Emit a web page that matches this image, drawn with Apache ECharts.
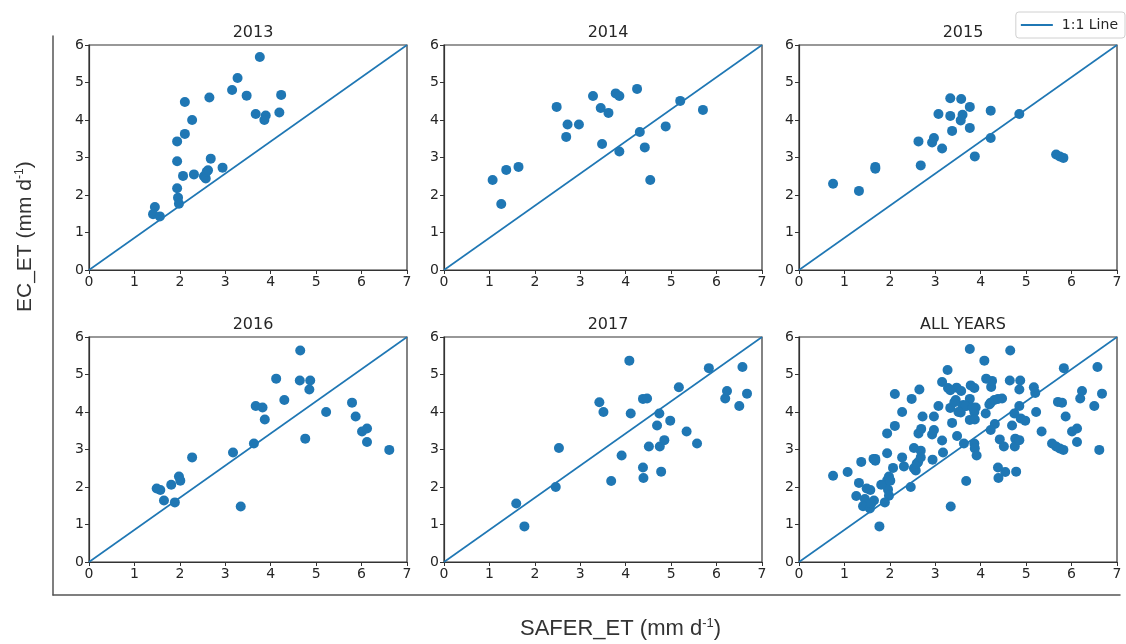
<!DOCTYPE html>
<html>
<head>
<meta charset="utf-8">
<script src="https://cdn.jsdelivr.net/npm/echarts@6/dist/echarts.min.js"></script>
<style>
  html, body { margin: 0; padding: 0; background: #fff; }
  #chart { width: 1126px; height: 644px; }
</style>
</head>
<body>
<div id="chart"></div>
<script>
// ---- data ----
const panelTitles = ['2013', '2014', '2015', '2016', '2017', 'ALL YEARS'];
const xTicks = [0, 1, 2, 3, 4, 5, 6, 7];
const yTicks = [0, 1, 2, 3, 4, 5, 6];

const x2013 = [1.45,1.41,1.56,1.94,1.96,1.98,1.94,1.94,2.11,2.11,2.27,2.07,2.31,2.53,2.57,2.59,2.62,2.68,2.65,2.94,3.15,3.27,3.47,3.76,3.67,3.89,3.86,4.19,4.23];
const y2013 = [1.68,1.49,1.43,2.18,1.93,1.77,2.90,3.43,3.63,4.48,4.00,2.51,2.55,2.50,2.44,2.62,2.66,2.97,4.60,2.73,4.80,5.12,4.65,5.68,4.16,4.12,4.00,4.20,4.67];

const x2014 = [1.07,1.26,1.37,1.64,2.48,2.69,2.72,2.97,3.28,3.45,3.62,3.48,3.78,3.86,3.86,4.25,4.31,4.42,4.54,4.88,5.20,5.70];
const y2014 = [2.40,1.76,2.67,2.75,4.35,3.55,3.88,3.88,4.64,4.32,4.19,3.36,4.71,4.64,3.16,4.83,3.68,3.27,2.40,3.83,4.51,4.27];

const x2015 = [0.75,1.32,1.68,1.68,2.63,2.68,2.93,2.97,3.15,3.07,3.33,3.33,3.37,3.57,3.60,3.56,3.76,3.76,3.87,4.22,4.22,4.85,5.66,5.74,5.82];
const y2015 = [2.30,2.11,2.75,2.70,3.43,2.79,3.40,3.52,3.24,4.16,4.58,4.11,3.71,4.56,4.14,3.99,4.35,3.79,3.03,4.25,3.52,4.16,3.08,3.03,2.99];

const x2016 = [1.49,1.57,1.65,1.81,1.89,1.98,2.01,2.27,3.17,3.34,3.63,3.67,3.82,3.87,4.12,4.30,4.65,4.64,4.87,4.85,4.76,5.22,5.79,5.87,6.01,6.12,6.12,6.61];
const y2016 = [1.96,1.92,1.64,2.06,1.59,2.28,2.17,2.79,2.92,1.48,3.16,4.16,4.12,3.80,4.89,4.32,5.64,4.84,4.84,4.60,3.29,4.00,4.25,3.88,3.48,3.56,3.20,2.99];

const x2017 = [1.59,1.77,2.46,2.53,3.42,3.51,3.68,3.91,4.08,4.11,4.38,4.47,4.38,4.39,4.51,4.69,4.74,4.75,4.85,4.78,4.98,5.17,5.34,5.57,5.83,6.19,6.23,6.50,6.57,6.67];
const y2017 = [1.56,0.95,2.00,3.04,4.26,4.00,2.16,2.84,5.37,3.96,4.35,4.36,2.52,2.24,3.08,3.64,3.96,3.08,3.25,2.41,3.77,4.66,3.48,3.16,5.17,4.36,4.56,4.16,5.20,4.49];

// 1:1 line drawn corner to corner of each panel
const lineX = [0, 7];
const lineY = [0, 6];
const lineName = '1:1 Line';

// ---- build ----
const xs = [x2013, x2014, x2015, x2016, x2017];
const ys = [y2013, y2014, y2015, y2016, y2017];
const allX = [].concat(...xs);
const allY = [].concat(...ys);
xs.push(allX); ys.push(allY);

const pairs = (a, b) => a.map((v, i) => [v, b[i]]);

const colLeft = [89, 444, 799];
const rowTop = [45, 337];
const gw = 318, gh = 225;
const blue = '#1f77b4';
const axisColor = '#333';
const tickFont = { fontFamily: 'DejaVu Sans', fontSize: 14, color: '#262626' };

const grids = [], xAxes = [], yAxes = [], series = [], titles = [];
for (let i = 0; i < 6; i++) {
  const c = i % 3, r = Math.floor(i / 3);
  grids.push({ left: colLeft[c], top: rowTop[r], width: gw, height: gh,
    show: true, borderColor: axisColor, borderWidth: 1.2, backgroundColor: 'transparent', containLabel: false });
  xAxes.push({ type: 'value', gridIndex: i, min: xTicks[0], max: xTicks[xTicks.length - 1], interval: 1,
    axisLine: { show: true, onZero: false, lineStyle: { color: axisColor, width: 1.2 } },
    axisTick: { show: true, length: 4, lineStyle: { color: axisColor } },
    axisLabel: Object.assign({ margin: 5 }, tickFont),
    splitLine: { show: false } });
  yAxes.push({ type: 'value', gridIndex: i, min: yTicks[0], max: yTicks[yTicks.length - 1], interval: 1,
    axisLine: { show: true, onZero: false, lineStyle: { color: axisColor, width: 1.2 } },
    axisTick: { show: true, length: 4, lineStyle: { color: axisColor } },
    axisLabel: Object.assign({ margin: 5 }, tickFont),
    splitLine: { show: false } });
  series.push({ type: 'line', name: lineName, xAxisIndex: i, yAxisIndex: i,
    data: pairs(lineX, lineY), symbol: 'none', silent: true, z: 2,
    lineStyle: { color: blue, width: 1.6 }, itemStyle: { color: blue } });
  series.push({ type: 'scatter', name: panelTitles[i], xAxisIndex: i, yAxisIndex: i,
    data: pairs(xs[i], ys[i]), symbol: 'circle', symbolSize: 10, z: 3,
    itemStyle: { color: blue, opacity: 1 } });
  titles.push({ text: panelTitles[i], left: colLeft[c] + gw / 2, top: rowTop[r] - 25, textAlign: 'center',
    textStyle: { fontFamily: 'DejaVu Sans', fontSize: 16, fontWeight: 'normal', color: '#262626' } });
}

// outer frame (L-shaped spines of the enclosing axes)
grids.push({ left: 53, top: 36, right: 6, bottom: 49, show: false });
xAxes.push({ type: 'value', gridIndex: 6, min: 0, max: 1, axisLine: { show: true, onZero: false, lineStyle: { color: '#555', width: 1.5 } },
  axisTick: { show: false }, axisLabel: { show: false }, splitLine: { show: false } });
yAxes.push({ type: 'value', gridIndex: 6, min: 0, max: 1, axisLine: { show: true, onZero: false, lineStyle: { color: '#555', width: 1.5 } },
  axisTick: { show: false }, axisLabel: { show: false }, splitLine: { show: false } });

const chart = echarts.init(document.getElementById('chart'), null, { renderer: 'canvas' });
chart.setOption({
  animation: false,
  backgroundColor: '#fff',
  title: titles,
  grid: grids,
  xAxis: xAxes,
  yAxis: yAxes,
  series: series,
  legend: {
    data: [lineName], right: 1, top: 12, orient: 'horizontal',
    icon: 'rect', itemWidth: 32, itemHeight: 2, itemGap: 8,
    padding: [6, 7, 6, 5], borderColor: '#d0d0d0', borderWidth: 1, borderRadius: 3,
    backgroundColor: '#fff',
    textStyle: { fontFamily: 'DejaVu Sans', fontSize: 14, color: '#262626', padding: [0, 0, 0, 4] }
  },
  graphic: [
    { type: 'text', left: 520, top: 617, style: {
        text: '{a|SAFER_ET (mm d}{s|-1}{a|)}',
        rich: { a: { fontFamily: 'Liberation Sans', fontSize: 22, fill: '#333' },
                s: { fontFamily: 'Liberation Sans', fontSize: 13, fill: '#333', verticalAlign: 'top', padding: [0, 0, 10, 0] } } } },
    { type: 'text', x: 14, y: 312, rotation: Math.PI / 2, style: {
        text: '{a|EC_ET (mm d}{s|-1}{a|)}',
        rich: { a: { fontFamily: 'Liberation Sans', fontSize: 21, fill: '#333' },
                s: { fontFamily: 'Liberation Sans', fontSize: 12, fill: '#333', padding: [0, 0, 10, 0] } } } }
  ]
});
</script>
</body>
</html>
